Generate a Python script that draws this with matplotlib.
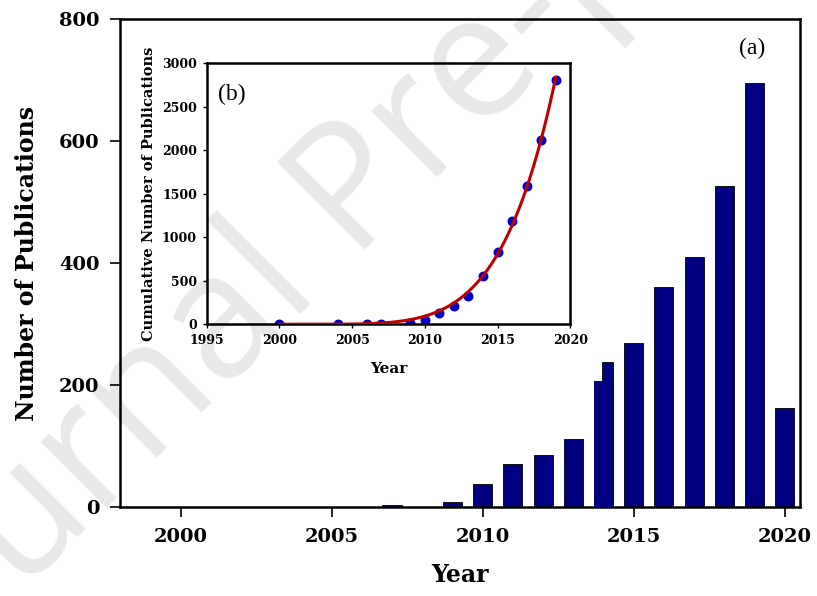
import matplotlib
matplotlib.use("Agg")
import matplotlib.pyplot as plt
import numpy as np

# yearly publication counts (bar chart)
years = [2007, 2009, 2010, 2011, 2012, 2013, 2014, 2015, 2016, 2017, 2018, 2019, 2020]
counts = [3, 8, 38, 71, 85, 112, 207, 269, 361, 410, 527, 696, 163]
# second, updated entry for 2014
count_2014b = 238

# cumulative publications (inset)
cum_years = [2000, 2004, 2006, 2007, 2009, 2010, 2011, 2012, 2013, 2014, 2015, 2016, 2017, 2018, 2019]
cum_counts = [5, 5, 6, 7, 15, 50, 126, 211, 322, 559, 828, 1184, 1594, 2119, 2812]

serif = "DejaVu Serif"
bar_col = "#000080"

fig = plt.figure(figsize=(8.17, 5.96), dpi=100)

# watermark behind everything
fig.text(0.465, 0.69, "Journal Pre-proof", rotation=45, fontsize=125,
         family="Open Sans", color="#e8e8e8", ha="center", va="center", zorder=-10)

ax = fig.add_axes([0.147, 0.149, 0.832, 0.819])
ax.patch.set_alpha(0)
ax.bar(years, counts, width=0.63, color=bar_col, edgecolor="black", linewidth=0.6, zorder=2)
ax.bar(2013.95, count_2014b, width=0.365, align="edge",
       color=bar_col, edgecolor="black", linewidth=0.6, zorder=2)
ax.bar(2014, 207, width=0.6, color=bar_col, edgecolor="none", zorder=3)

ax.set_xlim(1998, 2020.5)
ax.set_ylim(0, 800)
ax.set_xticks([2000, 2005, 2010, 2015, 2020])
ax.set_yticks([0, 200, 400, 600, 800])
ax.tick_params(direction="out", length=7, width=1.2, labelsize=14, pad=8)
for lab in ax.get_xticklabels() + ax.get_yticklabels():
    lab.set_family(serif)
    lab.set_fontweight("bold")
for s in ax.spines.values():
    s.set_linewidth(1.8)
ax.set_xlabel("Year", fontsize=17, fontweight="bold", family=serif, labelpad=12)
ax.set_ylabel("Number of Publications", fontsize=17, fontweight="bold", family=serif, labelpad=14)
ax.text(0.93, 0.94, "(a)", transform=ax.transAxes, fontsize=17,
        family="Liberation Serif", ha="center", va="center")

# inset: cumulative count with power-law trendline y = a*t^k, t = years since 2000
ins = fig.add_axes([0.253, 0.456, 0.445, 0.438])
ins.patch.set_alpha(0)
t = np.array(cum_years, dtype=float) - 2000
cy = np.array(cum_counts, dtype=float)
best = None
for k in np.linspace(1, 10, 3000):
    a = np.sum(cy * t ** k) / np.sum(t ** (2 * k))
    err = np.sum((a * t ** k - cy) ** 2)
    if best is None or err < best[0]:
        best = (err, k, a)
_, k, a = best
tf = np.linspace(0, 19, 200)
ins.plot(tf + 2000, a * tf ** k, color="#c00000", lw=2.2, zorder=3)
ins.scatter(cum_years, cum_counts, s=38, color="#0000cc", zorder=2)
ins.set_xlim(1995, 2020)
ins.set_ylim(0, 3000)
ins.set_xticks([1995, 2000, 2005, 2010, 2015, 2020])
ins.set_yticks([0, 500, 1000, 1500, 2000, 2500, 3000])
ins.tick_params(direction="out", length=3, width=1, labelsize=9, pad=4)
for lab in ins.get_xticklabels() + ins.get_yticklabels():
    lab.set_family(serif)
    lab.set_fontweight("bold")
for s in ins.spines.values():
    s.set_linewidth(1.8)
ins.set_xlabel("Year", fontsize=11, fontweight="bold", family=serif, labelpad=11)
ins.set_ylabel("Cumulative Number of Publications", fontsize=10.5, fontweight="bold", family=serif, labelpad=4)
ins.text(0.03, 0.88, "(b)", transform=ins.transAxes, fontsize=17,
         family="Liberation Serif", ha="left", va="center")

fig.savefig("out.png", dpi=100)
